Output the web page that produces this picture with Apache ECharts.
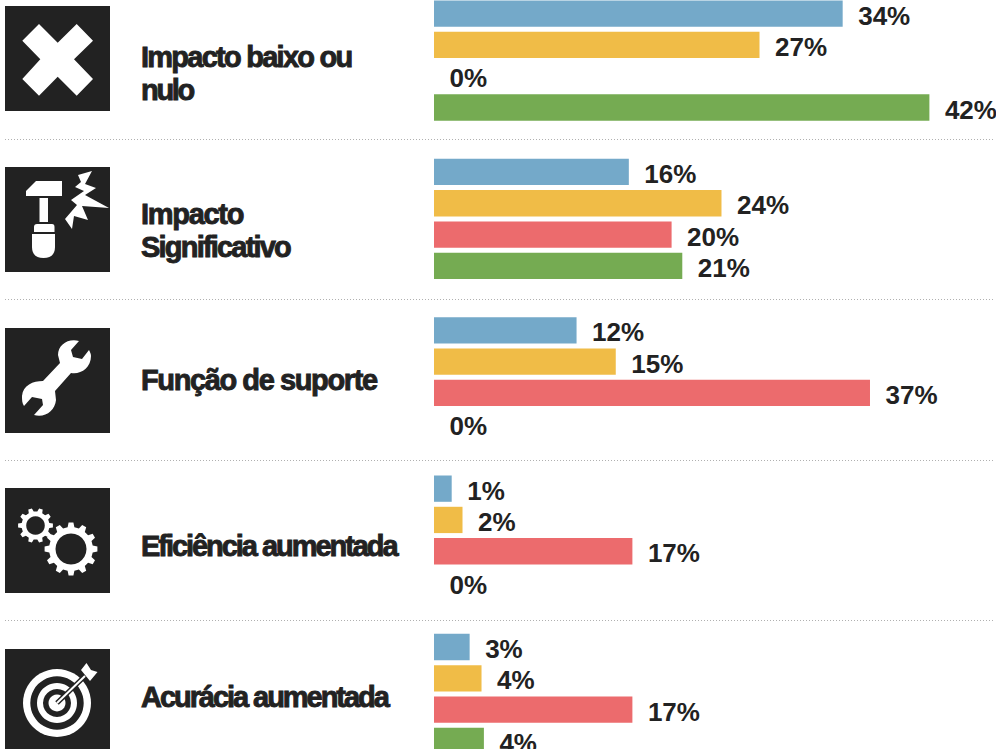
<!DOCTYPE html>
<html>
<head>
<meta charset="utf-8">
<title>Impacto</title>
<script src="https://cdn.jsdelivr.net/npm/echarts@6/dist/echarts.min.js"></script>
<style>
    html, body { margin: 0; padding: 0; background: #fff; }
    #chart { width: 996px; height: 749px; }
</style>
</head>
<body>
<div id="chart"></div>
<script>
const categories = ['Impacto baixo ou\nnulo', 'Impacto\nSignificativo', 'Função de suporte', 'Eficiência aumentada', 'Acurácia aumentada']

// labels show them rounded
const blueValues = [34.4, 16.4, 12.0, 1.49, 3.0]
const goldValues = [27.4, 24.2, 15.3, 2.4, 4.0]
const redValues = [0, 20.0, 36.7, 16.7, 16.7]
const greenValues = [41.7, 20.9, 0, 0, 4.2]

const titleY = [73, 230, 380, 546, 697]
const iconY = [6, 167, 328, 488, 649]
const dividerY = [139.5, 299.5, 460.5, 620.5]

// zrender text has no letter spacing, so it is set on the svg text lines after drawing
const titleSpacing = {
    'Impacto baixo ou': -1.75,
    'nulo': -2.3,
    'Impacto': -1.3,
    'Significativo': -1.8,
    'Função de suporte': -1.4,
    'Eficiência aumentada': -2.05,
    'Acurácia aumentada': -2.05
}

const textColor = '#222222'
const seriesColors = ['#74a9c9', '#f0bc47', '#ec6b6d', '#75ab52']

function gearPath(cx, cy, rOut, rIn, teeth) {
    let d = ''
    const step = Math.PI * 2 / teeth
    for (let i = 0; i < teeth; i++) {
        const a = i * step
        const pts = [
            [rIn, a - step * 0.30],
            [rOut, a - step * 0.17],
            [rOut, a + step * 0.17],
            [rIn, a + step * 0.30]
        ]
        pts.forEach((p, j) => {
            const x = (cx + p[0] * Math.cos(p[1])).toFixed(1)
            const y = (cy + p[0] * Math.sin(p[1])).toFixed(1)
            d += (i === 0 && j === 0 ? 'M' : 'L') + x + ',' + y
        })
    }
    return d + 'Z'
}

// the graphic component has no plain path type, so each icon path is registered as a shape
let shapeCount = 0
function white(d) {
    const name = 'iconShape' + (shapeCount++)
    echarts.graphic.registerShape(name, echarts.graphic.extendPath(d, {}))
    return { type: name, style: { fill: '#fff' } }
}

function ring(cx, cy, r, fill) {
    return { type: 'circle', shape: { cx: cx, cy: cy, r: r }, style: { fill: fill } }
}

// icon contents, in the 105px box of each row
const iconParts = [
    [white('M34,18 L52.7,36.7 L71.7,18 L88,34.7 L69,53.3 L88,73 L71.7,89.7 L52.7,70.7 L34,89.7 L17.3,73 L35.3,53.3 L17.3,34.7 Z')],
    [
        white('M21,24 L31,14 H57 V29 H21 Z'),
        white('M34.5,31 H43 V55 H34.5 Z'),
        white('M32,57 H47 Q49.5,57 49.5,60 V65 H29 V60 Q29,57 32,57 Z'),
        white('M27,67 H50 V80 Q50,91 38.5,91 Q27,91 27,80 Z'),
        white('M87,4 L73,8 L76,15 L70,20 L79,24 L66,33 L72,38 L60,52 L67,62 L69,49 L83,53 L77,39 L104,41 L80,28 L91,21 L80,17 Z')
    ],
    [white('M74,13 C63,10 53,17 53,27 L55,35 L38,53 C28,53 18,57 17,68 C17,72 17,75 19,78 L27,69 L37,71 L38,77 L29,87 C40,90 50,83 51,72 L50,63 L66,45 C75,47 86,40 86,28 C86,26 85,24 84,22 L77,31 L68,29 L66,22 Z')],
    [
        white(gearPath(66, 61, 26.5, 22, 12)),
        ring(66, 61, 15.5, textColor),
        white(gearPath(30.5, 37.5, 17.5, 14, 10)),
        ring(30.5, 37.5, 9.3, textColor)
    ],
    [
        ring(52, 54, 34, '#fff'),
        ring(52, 54, 26.7, textColor),
        ring(52, 54, 20, '#fff'),
        ring(52, 54, 14, textColor),
        ring(52, 54, 8.5, '#fff'),
        { type: 'line', shape: { x1: 52, y1: 54, x2: 80, y2: 27 }, style: { stroke: textColor, lineWidth: 5 } },
        { type: 'line', shape: { x1: 52, y1: 54, x2: 80, y2: 27 }, style: { stroke: '#fff', lineWidth: 2 } },
        white('M81.5,14 L86,21 L92.5,23 L85,32 L76,21 Z')
    ]
]

const graphics = []

iconY.forEach((y, i) => {
    graphics.push({
        type: 'group',
        x: 5,
        y: y,
        children: [
            { type: 'rect', shape: { x: 0, y: 0, width: 105, height: 105 }, style: { fill: textColor } }
        ].concat(iconParts[i])
    })
})

categories.forEach((name, i) => {
    graphics.push({
        type: 'text',
        x: 141,
        y: titleY[i],
        style: {
            text: name,
            fill: textColor,
            stroke: textColor,
            lineWidth: 0.9,
            fontFamily: 'Liberation Sans',
            fontWeight: 'bold',
            fontSize: 29,
            lineHeight: 33,
            verticalAlign: 'middle'
        }
    })
})

dividerY.forEach(y => {
    graphics.push({
        type: 'line',
        shape: { x1: 5, y1: y, x2: 995, y2: y },
        style: { stroke: '#b0b0b0', lineWidth: 1, lineDash: [1, 2] }
    })
})

function barSeries(name, values, color) {
    return {
        name: name,
        type: 'bar',
        data: values,
        barWidth: 26.3,
        barGap: '19%',
        itemStyle: { color: color },
        label: {
            show: true,
            position: 'right',
            distance: 15.5,
            offset: [0, 2],
            color: textColor,
            fontFamily: 'Liberation Sans',
            fontWeight: 'bold',
            fontSize: 26,
            formatter: p => Math.round(p.value) + '%'
        }
    }
}

const chart = echarts.init(document.getElementById('chart'), null, { renderer: 'svg' })
chart.setOption({
    animation: false,
    backgroundColor: '#fff',
    grid: { left: 434, top: -18.6, width: 594, height: 791.7, outerBoundsMode: 'none' },
    xAxis: { type: 'value', min: 0, max: 50, show: false },
    yAxis: { type: 'category', inverse: true, data: categories, show: false },
    series: [
        barSeries('Azul', blueValues, seriesColors[0]),
        barSeries('Amarelo', goldValues, seriesColors[1]),
        barSeries('Vermelho', redValues, seriesColors[2]),
        barSeries('Verde', greenValues, seriesColors[3])
    ],
    graphic: graphics
})

document.querySelectorAll('#chart svg text').forEach(el => {
    const spacing = titleSpacing[el.textContent]
    if (spacing !== undefined) {
        el.style.letterSpacing = spacing + 'px'
    }
})
</script>
</body>
</html>
